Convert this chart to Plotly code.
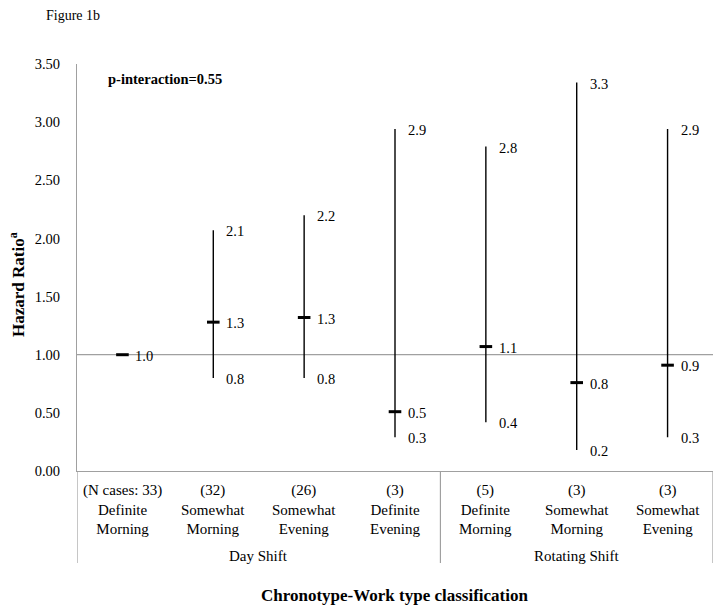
import plotly.graph_objects as go

chronotypes = ["(N cases: 33)<br>Definite<br>Morning", "(32)<br>Somewhat<br>Morning",
               "(26)<br>Somewhat<br>Evening", "(3)<br>Definite<br>Evening",
               "(5)<br>Definite<br>Morning", "(3)<br>Somewhat<br>Morning",
               "(3)<br>Somewhat<br>Evening"]
work_types = ["Day Shift", "Rotating Shift"]
work_type_sizes = [4, 3]
hr = [1.0, 1.28, 1.32, 0.51, 1.07, 0.76, 0.91]
ci_low = [1.0, 0.80, 0.80, 0.29, 0.42, 0.18, 0.29]
ci_high = [1.0, 2.07, 2.20, 2.94, 2.79, 3.34, 2.94]
y_ticks = [0, 0.5, 1.0, 1.5, 2.0, 2.5, 3.0, 3.5]

FONT = "Liberation Serif, Times New Roman, serif"
FS = 14.5
x = list(range(1, len(hr) + 1))
PLOT_W, PLOT_H = 636, 407
L, T = 77, 64  # plot area origin in the page (page has 8px body margin)

fig = go.Figure()
# reference line at HR = 1
fig.add_shape(type="line", xref="x", yref="y", x0=0.5, x1=len(hr) + 0.5, y0=1, y1=1,
              line=dict(color="#a0a0a0", width=1.2), layer="below")

fig.add_trace(go.Scatter(
    x=x, y=hr, mode="markers",
    marker=dict(symbol="line-ew", size=9, line=dict(color="black", width=3)),
    error_y=dict(type="data", symmetric=False,
                 array=[h - p for h, p in zip(ci_high, hr)],
                 arrayminus=[p - l for l, p in zip(ci_low, hr)],
                 color="black", thickness=1.4, width=0),
    showlegend=False, hoverinfo="skip"))

ann = []
for xi, p, lo, hi in zip(x, hr, ci_low, ci_high):
    vals = [p] if lo == hi else [p, lo, hi]
    for v in vals:
        ann.append(dict(x=xi, y=v, xref="x", yref="y", text=f"{v:.1f}", showarrow=False,
                        xanchor="left", yanchor="middle", xshift=11, yshift=-1,
                        font=dict(family=FONT, size=FS, color="black")))
for xi, lab in zip(x, chronotypes):
    ann.append(dict(x=xi, y=0, xref="x", yref="paper", text=lab, showarrow=False,
                    xanchor="center", yanchor="top", yshift=-9,
                    font=dict(family=FONT, size=15, color="black")))
# group labels and separators
start = 0.5
seps = [start]
for name, n in zip(work_types, work_type_sizes):
    ann.append(dict(x=start + n / 2, y=0, xref="x", yref="paper", text=name, showarrow=False,
                    xanchor="center", yanchor="middle", yshift=-85,
                    font=dict(family=FONT, size=15, color="black")))
    start += n
    seps.append(start)
for s in seps:
    fig.add_shape(type="line", xref="x", yref="paper", x0=s, x1=s, y0=0, y1=-92 / PLOT_H,
                  line=dict(color="#a0a0a0", width=1.2))

ann.append(dict(x=29 / PLOT_W, y=(471 - 79) / PLOT_H, xref="paper", yref="paper",
                text="<b>p-interaction=0.55</b>", showarrow=False, xanchor="left", yanchor="middle",
                font=dict(family=FONT, size=FS, color="black")))
ann.append(dict(x=(44 - L) / PLOT_W, y=(471 - 15) / PLOT_H, xref="paper", yref="paper",
                text="Figure 1b", showarrow=False, xanchor="left", yanchor="middle",
                font=dict(family=FONT, size=14, color="black")))
ann.append(dict(x=0.5, y=0, xref="paper", yref="paper", yanchor="middle",
                text="<b>Chronotype-Work type classification</b>", showarrow=False, yshift=-124,
                font=dict(family=FONT, size=17, color="black")))
ann.append(dict(x=(17 - L) / PLOT_W, y=(471 - 284) / PLOT_H, xref="paper", yref="paper",
                xanchor="center", yanchor="middle", textangle=-90,
                text="<b>Hazard Ratio<sup>a</sup></b>", showarrow=False,
                font=dict(family=FONT, size=17, color="black")))
fig.layout.annotations = ann

fig.update_layout(
    width=714, height=607,
    margin=dict(l=L - 8, r=714 - (L - 8) - PLOT_W, t=T - 8, b=607 - (T - 8) - PLOT_H),
    paper_bgcolor="white", plot_bgcolor="white",
    font=dict(family=FONT, size=FS, color="black"),
    xaxis=dict(range=[0.5, len(hr) + 0.5], showticklabels=False, showgrid=False, zeroline=False,
               showline=True, linecolor="#a0a0a0", linewidth=1.2, ticks="", automargin=False),
    yaxis=dict(range=[0, 3.5], tickvals=y_ticks, ticktext=[f"{v:.2f}" for v in y_ticks],
               showgrid=False, zeroline=False, showline=True, linecolor="#a0a0a0", linewidth=1.2,
               ticks="", ticklabelstandoff=13, automargin=False),
)
fig.write_html("out.html")
